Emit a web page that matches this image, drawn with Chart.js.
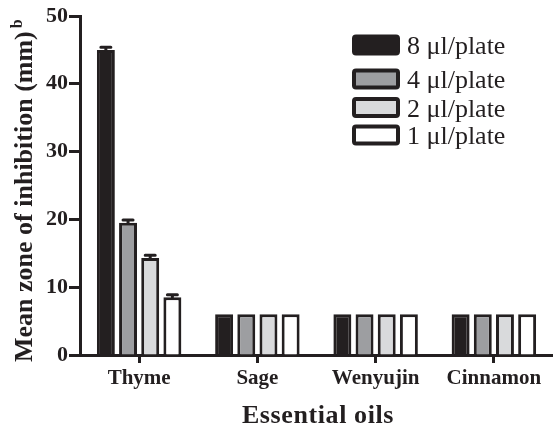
<!DOCTYPE html>
<html>
<head>
<meta charset="utf-8">
<script src="https://cdn.jsdelivr.net/npm/chart.js@4.4.1/dist/chart.umd.min.js"></script>
<style>
  html, body { margin: 0; padding: 0; background: #fff; }
  #wrap { width: 553px; height: 426px; position: relative; }
</style>
</head>
<body>
<div id="wrap"><canvas id="myChart"></canvas></div>
<script>
// --- data ---
const oils = ['Thyme', 'Sage', 'Wenyujin', 'Cinnamon'];
const doseLabels = ['8 \u03bcl/plate', '4 \u03bcl/plate', '2 \u03bcl/plate', '1 \u03bcl/plate'];
const dose8 = [45.0, 6.0, 6.0, 6.0];
const dose4 = [19.5, 6.0, 6.0, 6.0];
const dose2 = [14.3, 6.0, 6.0, 6.0];
const dose1 = [8.5, 6.0, 6.0, 6.0];
const err8 = [0.4, 0, 0, 0];
const err4 = [0.4, 0, 0, 0];
const err2 = [0.4, 0, 0, 0];
const err1 = [0.4, 0, 0, 0];
const yTicks = [0, 10, 20, 30, 40, 50];

const ink = '#231f20';
const fills = ['#231f20', '#9d9ea1', '#d9dadc', '#ffffff'];
const serif = "'Liberation Serif', 'Times New Roman', serif";

// error caps on top of the bars
const errorBars = {
  id: 'errorBars',
  afterDatasetsDraw(chart) {
    const ctx = chart.ctx;
    const y = chart.scales.y;
    ctx.save();
    ctx.strokeStyle = ink;
    ctx.lineWidth = 3;
    ctx.lineCap = 'round';
    chart.data.datasets.forEach((ds, i) => {
      chart.getDatasetMeta(i).data.forEach((bar, j) => {
        const e = ds.errors[j];
        if (!e) return;
        const top = y.getPixelForValue(ds.data[j] + e);
        const base = y.getPixelForValue(ds.data[j]);
        ctx.beginPath();
        ctx.moveTo(bar.x, base);
        ctx.lineTo(bar.x, top);
        ctx.moveTo(bar.x - 5, top);
        ctx.lineTo(bar.x + 5, top);
        ctx.stroke();
      });
    });
    ctx.restore();
  }
};

// legend box in the upper right, y-title with superscript, x-title
const extras = {
  id: 'extras',
  afterDraw(chart) {
    const ctx = chart.ctx;
    ctx.save();
    ctx.fillStyle = ink;

    // y title
    ctx.save();
    ctx.translate(32, 362);
    ctx.rotate(-Math.PI / 2);
    ctx.font = 'bold 26px ' + serif;
    ctx.textAlign = 'left';
    ctx.textBaseline = 'alphabetic';
    const main = 'Mean zone of inhibition (mm)';
    ctx.fillText(main, 0, 0);
    const w = ctx.measureText(main).width;
    ctx.font = 'bold 16px ' + serif;
    ctx.fillText('b', w + 3, -10);
    ctx.restore();

    // x title
    ctx.font = 'bold 26px ' + serif;
    ctx.letterSpacing = '0.6px';
    ctx.textAlign = 'center';
    ctx.textBaseline = 'alphabetic';
    ctx.fillText('Essential oils', 318, 423);
    ctx.letterSpacing = '0px';

    // legend
    const rows = [45, 79, 107.5, 135];
    ctx.font = '26px ' + serif;
    ctx.textAlign = 'left';
    chart.data.datasets.forEach((ds, i) => {
      const cy = rows[i];
      const bx = 354, bw = 44, bh = 17;
      ctx.fillStyle = ds.backgroundColor;
      ctx.fillRect(bx, cy - bh / 2, bw, bh);
      ctx.strokeStyle = ink;
      ctx.lineWidth = 4;
      ctx.beginPath();
      ctx.roundRect(bx, cy - bh / 2, bw, bh, 2);
      ctx.stroke();
      ctx.fillStyle = ink;
      ctx.fillText(ds.label, 407, cy + 9);
    });
    ctx.restore();
  }
};

const series = [dose8, dose4, dose2, dose1];
const errs = [err8, err4, err2, err1];

window.onload = function() {
  const ctx = document.getElementById('myChart').getContext('2d');
  new Chart(ctx, {
    type: 'bar',
    data: {
      labels: oils,
      datasets: series.map((vals, i) => ({
        label: doseLabels[i],
        data: vals,
        errors: errs[i],
        backgroundColor: fills[i],
        borderColor: ink,
        borderWidth: 3,
        barPercentage: 0.81,
        categoryPercentage: 0.75
      }))
    },
    options: {
      responsive: true,
      maintainAspectRatio: false,
      animation: false,
      layout: { padding: { top: 16, right: -2, left: 0, bottom: 0 } },
      plugins: { legend: { display: false }, tooltip: { enabled: false } },
      scales: {
        x: {
          offset: true,
          ticks: { color: ink, padding: 3, font: { family: serif, size: 21, weight: 'bold' } },
          grid: { offset: false, drawOnChartArea: false, drawTicks: true, tickLength: 8, tickWidth: 3, tickColor: ink },
          border: { display: true, width: 3, color: ink },
          afterFit: s => { s.height = 71; }
        },
        y: {
          min: 0,
          max: 50,
          afterBuildTicks: s => { s.ticks = yTicks.map(v => ({ value: v })); },
          ticks: { color: ink, padding: 1, font: { family: serif, size: 22, weight: 'bold' } },
          grid: { drawOnChartArea: false, drawTicks: true, tickLength: 11, tickWidth: 3, tickColor: ink },
          border: { display: true, width: 3, color: ink },
          afterFit: s => { s.width = 80; }
        }
      }
    },
    plugins: [errorBars, extras]
  });
};
</script>
</body>
</html>
